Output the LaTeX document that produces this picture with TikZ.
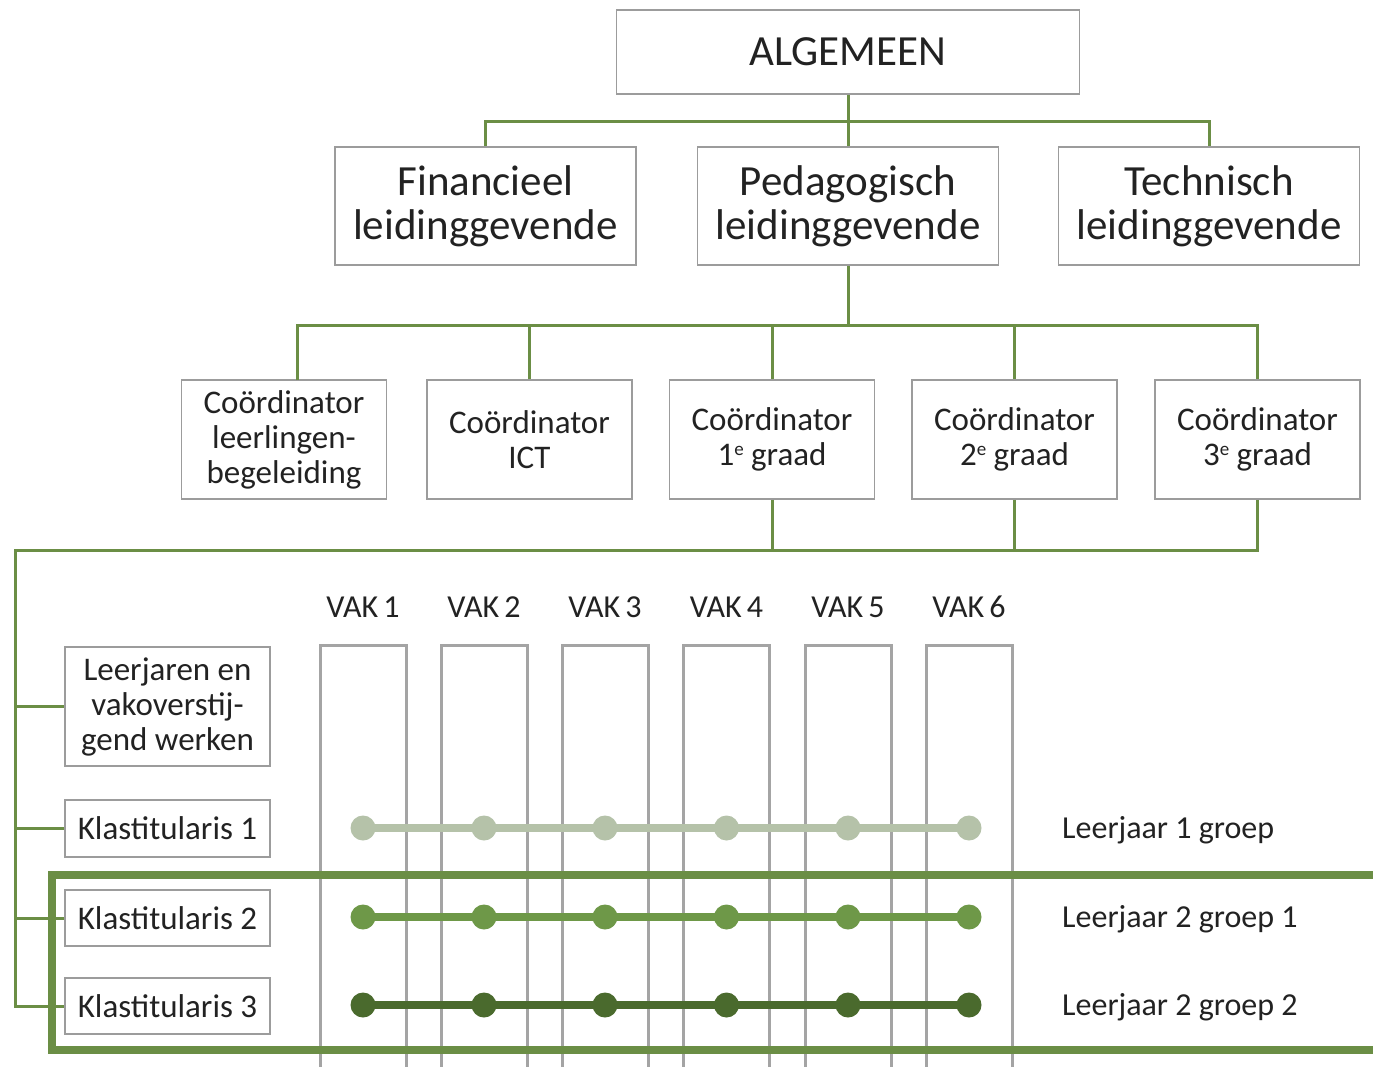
\documentclass[tikz,border=0pt]{standalone}
\usepackage{fontspec}
\setmainfont{Carlito}
\newcommand{\supe}{\raisebox{0.62ex}{\fontsize{19}{19}\selectfont e}}
\begin{document}
\begin{tikzpicture}[x=1pt,y=-1pt,
  conn/.style={draw=linegreen,line width=3pt},
  gbox/.style={draw=boxgray,line width=1.8pt,fill=white,inner sep=0pt,align=center,text=txt},
  colline/.style={draw=colgray,line width=3pt},
  rowline/.style={line width=8pt},
  dotr/.style={circle,inner sep=0pt,minimum size=25pt},
  lbl/.style={text=txt,inner sep=0pt},
]
\definecolor{linegreen}{HTML}{6B8E45}
\definecolor{boxgray}{HTML}{9C9C9C}
\definecolor{colgray}{HTML}{A4A4A4}
\definecolor{txt}{HTML}{222222}
\definecolor{rowA}{HTML}{B5C2A9}
\definecolor{rowB}{HTML}{6E9848}
\definecolor{rowC}{HTML}{4A6A2D}
\useasboundingbox[fill=white] (0,0) rectangle (1373,1067);

% top levels
\node[gbox,minimum width=463pt,minimum height=84pt,font=\fontsize{43}{46}\selectfont] (alg) at (848,52) {ALGEMEEN};
\node[gbox,minimum width=301pt,minimum height=118pt,font=\fontsize{43}{44}\selectfont] (fin) at (485.5,206) {Financieel\\leidinggevende};
\node[gbox,minimum width=301pt,minimum height=118pt,font=\fontsize{43}{44}\selectfont] (ped) at (848,206) {Pedagogisch\\leidinggevende};
\node[gbox,minimum width=301pt,minimum height=118pt,font=\fontsize{43}{44}\selectfont] (tec) at (1209,206) {Technisch\\leidinggevende};

\tikzset{cfont/.style={font=\fontsize{33}{35}\selectfont}}
\node[gbox,cfont,minimum width=205pt,minimum height=119pt] (c1) at (284,439.5) {Coördinator\\leerlingen-\\begeleiding};
\node[gbox,cfont,minimum width=205pt,minimum height=119pt] (c2) at (529.5,439.5) {Coördinator\\ICT};
\node[gbox,cfont,minimum width=205pt,minimum height=119pt] (c3) at (772,439.5) {Coördinator\\1\supe\ graad};
\node[gbox,cfont,minimum width=205pt,minimum height=119pt] (c4) at (1014.5,439.5) {Coördinator\\2\supe\ graad};
\node[gbox,cfont,minimum width=205pt,minimum height=119pt] (c5) at (1257.5,439.5) {Coördinator\\3\supe\ graad};

% connectors top
\coordinate (j1) at (848,122);
\draw[conn] (alg.south) -- (j1);
\draw[conn] (fin.north) |- (j1) -| (tec.north);
\draw[conn] (j1) -- (ped.north);
\coordinate (j2) at (848,325);
\coordinate (c1top) at (297,380);
\draw[conn] (ped.south) -- (j2);
\draw[conn] (c1top) |- (j2) -| (c5.north);
\draw[conn] (c2.north) -- (c2.north |- j2);
\draw[conn] (c3.north) -- (c3.north |- j2);
\draw[conn] (c4.north) -- (c4.north |- j2);

% columns
\foreach \i/\x in {1/363,2/484,3/605,4/726.5,5/848,6/969}{
  \draw[colline] (\x-43,1067) -- (\x-43,645) -- (\x+43,645) -- (\x+43,1067);
  \node[lbl,font=\fontsize{32}{34}\selectfont] (vak\i) at (\x,607) {VAK\,\i};
}

% left boxes
\tikzset{kfont/.style={font=\fontsize{33}{35}\selectfont}}
\node[gbox,kfont,minimum width=205pt,minimum height=119pt] (lj) at (167.5,706.5) {Leerjaren en\\vakoverstij-\\gend werken};
\node[gbox,kfont,minimum width=205pt,minimum height=57pt] (k1) at (167.5,828.5) {Klastitularis 1};
\node[gbox,kfont,minimum width=205pt,minimum height=56pt] (k2) at (167.5,918) {Klastitularis 2};
\node[gbox,kfont,minimum width=205pt,minimum height=56pt] (k3) at (167.5,1006) {Klastitularis 3};

% bottom connector tree
\coordinate (trunk) at (15,550);
\draw[conn] (c5.south) -- (c5.south |- trunk) -- (trunk) |- (k3.west);
\draw[conn] (c3.south) -- (c3.south |- trunk);
\draw[conn] (c4.south) -- (c4.south |- trunk);
\draw[conn] (trunk |- lj.west) -- (lj.west);
\draw[conn] (trunk |- k1.west) -- (k1.west);
\draw[conn] (trunk |- k2.west) -- (k2.west);

% rows of dots
\foreach \y/\c [count=\r] in {828/rowA,917/rowB,1005/rowC}{
  \foreach \i/\x in {1/363,2/484,3/605,4/726.5,5/848,6/969}{
    \node[dotr,fill=\c] (d\r\i) at (\x,\y) {};
  }
  \draw[rowline,draw=\c] (d\r1.center) -- (d\r6.center);
}

% thick green frame
\draw[draw=linegreen,line width=8pt] (1380,875) -- (52,875) -- (52,1050) -- (1380,1050);

% row labels
\node[lbl,anchor=west,font=\fontsize{32}{34}\selectfont] (r1) at (1062,830) {Leerjaar 1 groep};
\node[lbl,anchor=west,font=\fontsize{32}{34}\selectfont] (r2) at (1062,919) {Leerjaar 2 groep 1};
\node[lbl,anchor=west,font=\fontsize{32}{34}\selectfont] (r3) at (1062,1007) {Leerjaar 2 groep 2};
\end{tikzpicture}
\end{document}
